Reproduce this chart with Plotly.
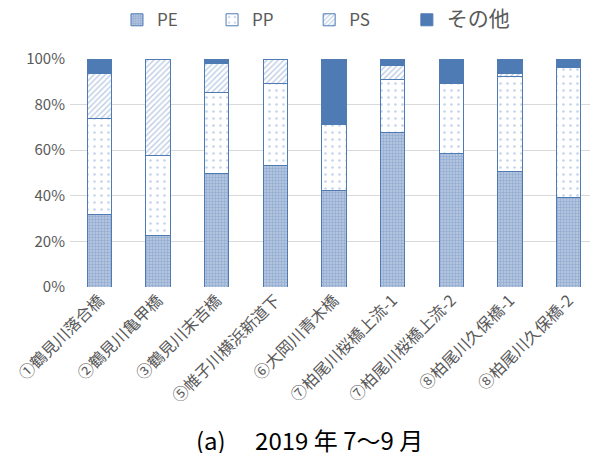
"""
採取地点別のプラスチック材質構成比（2019年7～9月）
"""

import plotly.graph_objects as go

# 地点名
sites = [
    "①鶴見川落合橋", "②鶴見川亀甲橋", "③鶴見川末吉橋", "⑤帷子川横浜新道下",
    "⑥大岡川青木橋", "⑦柏尾川桜橋上流-1", "⑦柏尾川桜橋上流-2",
    "⑧柏尾川久保橋-1", "⑧柏尾川久保橋-2",
]

# 構成比（割合）
pe = [0.32, 0.227, 0.499, 0.535, 0.425, 0.676, 0.587, 0.507, 0.392]
pp = [0.42, 0.348, 0.354, 0.358, 0.289, 0.236, 0.307, 0.415, 0.571]
ps = [0.197, 0.425, 0.126, 0.107, 0.0, 0.058, 0.0, 0.016, 0.0]
other = [0.063, 0.0, 0.021, 0.0, 0.286, 0.030, 0.106, 0.062, 0.037]

tick_vals = [0, 0.2, 0.4, 0.6, 0.8, 1.0]
tick_text = ["0%", "20%", "40%", "60%", "80%", "100%"]

BLUE = "#4f7bb5"
LINE = dict(color=BLUE, width=1)

fig = go.Figure()

# PE（格子柄）
fig.add_trace(go.Bar(
    x=sites, y=pe, name="PE", legend="legend",
    marker=dict(color="#b3c4df", line=LINE,
                pattern=dict(shape="+", fgcolor="#6a8fc6", size=3, solidity=0.35)),
))

# PP（点柄）
fig.add_trace(go.Bar(
    x=sites, y=pp, name="PP", legend="legend2",
    marker=dict(color="white", line=LINE,
                pattern=dict(shape=".", fgcolor="#8eaad6", bgcolor="white", size=7, solidity=0.12)),
))

# PS（斜線）
fig.add_trace(go.Bar(
    x=sites, y=ps, name="PS", legend="legend3",
    marker=dict(color="white", line=LINE,
                pattern=dict(shape="/", fgcolor="#7a9acb", bgcolor="white", size=4, solidity=0.35)),
))

# その他（塗りつぶし）
fig.add_trace(go.Bar(
    x=sites, y=other, name="<span style='font-size:21px'>その他</span>", legend="legend4",
    marker=dict(color=BLUE, line=LINE),
))


def legend_box(x):
    # 凡例は1項目ずつ位置を固定する
    return dict(
        orientation="h", x=x, y=1.17, xref="paper", yref="paper",
        xanchor="left", yanchor="middle", itemwidth=30,
        bgcolor="rgba(0,0,0,0)",
        font=dict(size=17, color="#595959"),
    )


# ページ余白(8px)を考慮して少し小さめに描く
fig.update_layout(
    barmode="stack",
    bargap=0.59,
    width=590, height=445,
    margin=dict(l=62, r=0, t=51, b=166, autoexpand=False),
    paper_bgcolor="white",
    plot_bgcolor="white",
    font=dict(family="Noto Sans CJK JP", color="#595959", size=14),
    showlegend=True,
    legend=legend_box(0.089),
    legend2=legend_box(0.269),
    legend3=legend_box(0.453),
    legend4=legend_box(0.638),
    annotations=[dict(
        text="(a)　 2019 年 7～9 月",
        xref="paper", yref="paper", x=0.453, y=-0.671,
        xanchor="center", yanchor="middle", showarrow=False,
        font=dict(family="Liberation Sans Narrow, Noto Sans CJK JP", size=24, color="black"),
    )],
)

fig.update_yaxes(
    range=[0, 1], tickvals=tick_vals, ticktext=tick_text,
    showgrid=True, gridcolor="#d9d9d9", gridwidth=1,
    zeroline=False, showline=False,
    ticklabelstandoff=4,
    tickfont=dict(size=15, color="#595959"),
)
fig.update_xaxes(
    tickangle=-45, showline=False, showgrid=False,
    tickfont=dict(size=16, color="#595959"),
)

fig.write_html("out.html")
